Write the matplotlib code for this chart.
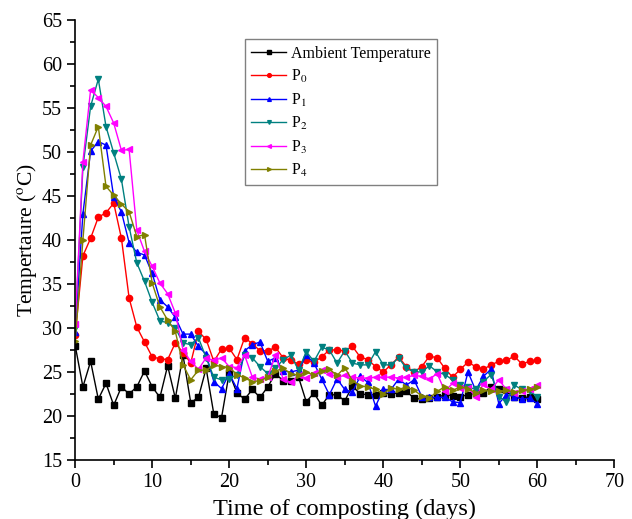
import numpy as np
import matplotlib
matplotlib.use("Agg")
import matplotlib.pyplot as plt
from matplotlib.ticker import MultipleLocator

plt.rcParams['font.family'] = ['Liberation Serif', 'DejaVu Serif']
plt.rcParams['mathtext.fontset'] = 'stix'

# days of composting
days = np.arange(0, 61)

# temperatures
ambient = [28.0, 23.3, 26.2, 21.9, 23.7, 21.2, 23.3, 22.5, 23.3, 25.1,
           23.3, 22.1, 25.7, 22.0, 26.9, 21.5, 22.1, 25.4, 20.2, 19.8,
           24.9, 22.6, 21.9, 23.0, 22.1, 23.3, 24.8, 24.0, 24.0, 24.4,
           21.6, 22.6, 21.2, 22.4, 22.4, 21.7, 23.4, 22.5, 22.4, 22.4,
           22.6, 22.5, 22.6, 22.8, 22.0, 21.9, 22.0, 22.1, 22.4, 22.3,
           22.2, 22.4, 22.6, 22.6, 23.3, 23.0, 22.9, 22.2, 22.0, 22.2,
           21.9]
p0 = [29.2, 38.2, 40.2, 42.6, 43.1, 44.2, 40.2, 33.4, 30.1, 28.4,
      26.7, 26.5, 26.4, 28.3, 27.2, 26.0, 29.6, 28.7, 26.2, 27.6,
      27.7, 26.4, 28.9, 28.2, 27.4, 27.4, 27.8, 26.6, 26.3, 25.9,
      26.3, 26.1, 26.7, 27.5, 27.5, 27.4, 27.9, 26.7, 26.4, 25.6,
      25.0, 25.8, 26.7, 25.6, 25.0, 25.6, 26.8, 26.6, 25.4, 24.4,
      25.3, 26.1, 25.6, 25.3, 25.8, 26.2, 26.3, 26.8, 25.9, 26.2,
      26.3]
p1 = [29.5, 43.0, 50.1, 51.2, 50.8, 44.9, 43.2, 39.7, 38.6, 38.3,
      36.2, 33.2, 32.4, 31.2, 29.3, 29.3, 27.9, 27.0, 23.9, 23.1,
      24.8, 23.1, 27.4, 28.1, 28.4, 26.2, 26.6, 25.1, 25.0, 25.2,
      26.9, 26.0, 24.2, 22.4, 24.2, 23.0, 22.7, 24.5, 23.8, 21.1,
      23.0, 23.0, 24.2, 23.5, 24.1, 22.2, 22.1, 22.1, 22.1, 21.6,
      21.5, 25.0, 22.9, 24.5, 25.3, 21.4, 22.4, 22.2, 21.9, 22.0,
      21.4]
p2 = [30.0, 48.3, 55.2, 58.3, 52.9, 49.9, 46.9, 41.5, 37.4, 35.3,
      32.9, 30.8, 30.6, 30.0, 28.3, 28.1, 28.9, 26.6, 24.4, 24.1,
      24.2, 24.7, 26.9, 26.6, 25.6, 24.8, 25.4, 26.4, 26.9, 25.2,
      27.3, 26.2, 27.8, 27.5, 26.0, 27.4, 26.0, 25.8, 25.8, 27.3,
      25.8, 25.8, 26.6, 25.4, 25.0, 25.0, 25.7, 25.0, 24.7, 24.1,
      23.5, 23.3, 23.0, 23.9, 24.7, 22.2, 21.6, 23.5, 23.0, 22.8,
      22.2]
p3 = [30.5, 48.9, 57.1, 56.2, 55.2, 53.3, 50.2, 50.3, 41.1, 38.7,
      37.0, 35.1, 33.9, 31.7, 27.5, 26.2, 25.3, 26.6, 26.3, 26.6,
      25.6, 25.5, 26.9, 24.4, 24.2, 24.4, 26.9, 24.2, 23.8, 24.6,
      24.3, 24.9, 25.2, 24.8, 24.4, 24.6, 24.4, 24.3, 24.3, 24.4,
      24.4, 24.4, 24.3, 24.4, 24.6, 24.5, 24.2, 24.8, 22.8, 23.7,
      23.2, 23.2, 22.2, 23.6, 23.0, 24.1, 23.0, 22.6, 22.8, 23.1,
      23.5]
p4 = [28.5, 40.0, 50.8, 52.9, 46.1, 45.1, 44.1, 43.2, 40.4, 40.6,
      35.1, 32.4, 30.9, 29.6, 25.8, 24.1, 25.2, 25.2, 25.8, 25.6,
      25.5, 24.7, 24.3, 23.9, 24.0, 24.4, 25.1, 25.4, 24.8, 24.6,
      25.0, 24.6, 25.1, 25.3, 24.6, 25.5, 24.0, 23.4, 23.3, 23.0,
      22.5, 23.2, 23.0, 23.3, 22.9, 22.3, 22.0, 22.8, 23.3, 22.9,
      23.3, 23.1, 22.6, 22.9, 22.8, 22.8, 22.9, 22.7, 22.9, 23.0,
      23.3]

series = [ambient, p0, p1, p2, p3, p4]
labels = ['Ambient Temperature', 'P$_0$', 'P$_1$', 'P$_2$', 'P$_3$', 'P$_4$']
colors = ['black', '#ff0000', '#0000ff', '#008080', '#ff00ff', '#808000']
markers = ['s', 'o', '^', 'v', '<', '>']

fig = plt.figure(figsize=(6.32, 5.19), dpi=100)
ax = fig.add_axes([0.119, 0.114, 0.853, 0.847])

for vals, lab, col, mk in zip(series, labels, colors, markers):
    ax.plot(days, vals, color=col, marker=mk, markersize=4.5, linewidth=1.0,
            label=lab)

ax.set_xlim(0, 70)
ax.set_ylim(15, 65)
ax.xaxis.set_major_locator(MultipleLocator(10))
ax.xaxis.set_minor_locator(MultipleLocator(5))
ax.yaxis.set_major_locator(MultipleLocator(5))
ax.yaxis.set_minor_locator(MultipleLocator(2.5))
ax.tick_params(which='major', direction='out', length=6, width=1.2,
               labelsize=14.5)
ax.tick_params(which='minor', direction='out', length=3.5, width=1.2)
ax.spines['top'].set_visible(False)
ax.spines['right'].set_visible(False)
ax.spines['left'].set_linewidth(1.2)
ax.spines['bottom'].set_linewidth(1.2)

ax.set_xlabel('Time of composting (days)', fontsize=17.5, labelpad=5)
ax.set_ylabel('Tempertaure ($^{\\mathrm{o}}$C)', fontsize=15.5, labelpad=2)

leg = ax.legend(loc='upper left', bbox_to_anchor=(0.3, 0.975), fontsize=11.5,
                handlelength=2.2, handletextpad=0.3, labelspacing=0.4,
                borderpad=0.4, markerscale=0.6, fancybox=False,
                edgecolor='gray', framealpha=1)
leg.get_frame().set_linewidth(1.0)

fig.savefig('out.png', dpi=100)
